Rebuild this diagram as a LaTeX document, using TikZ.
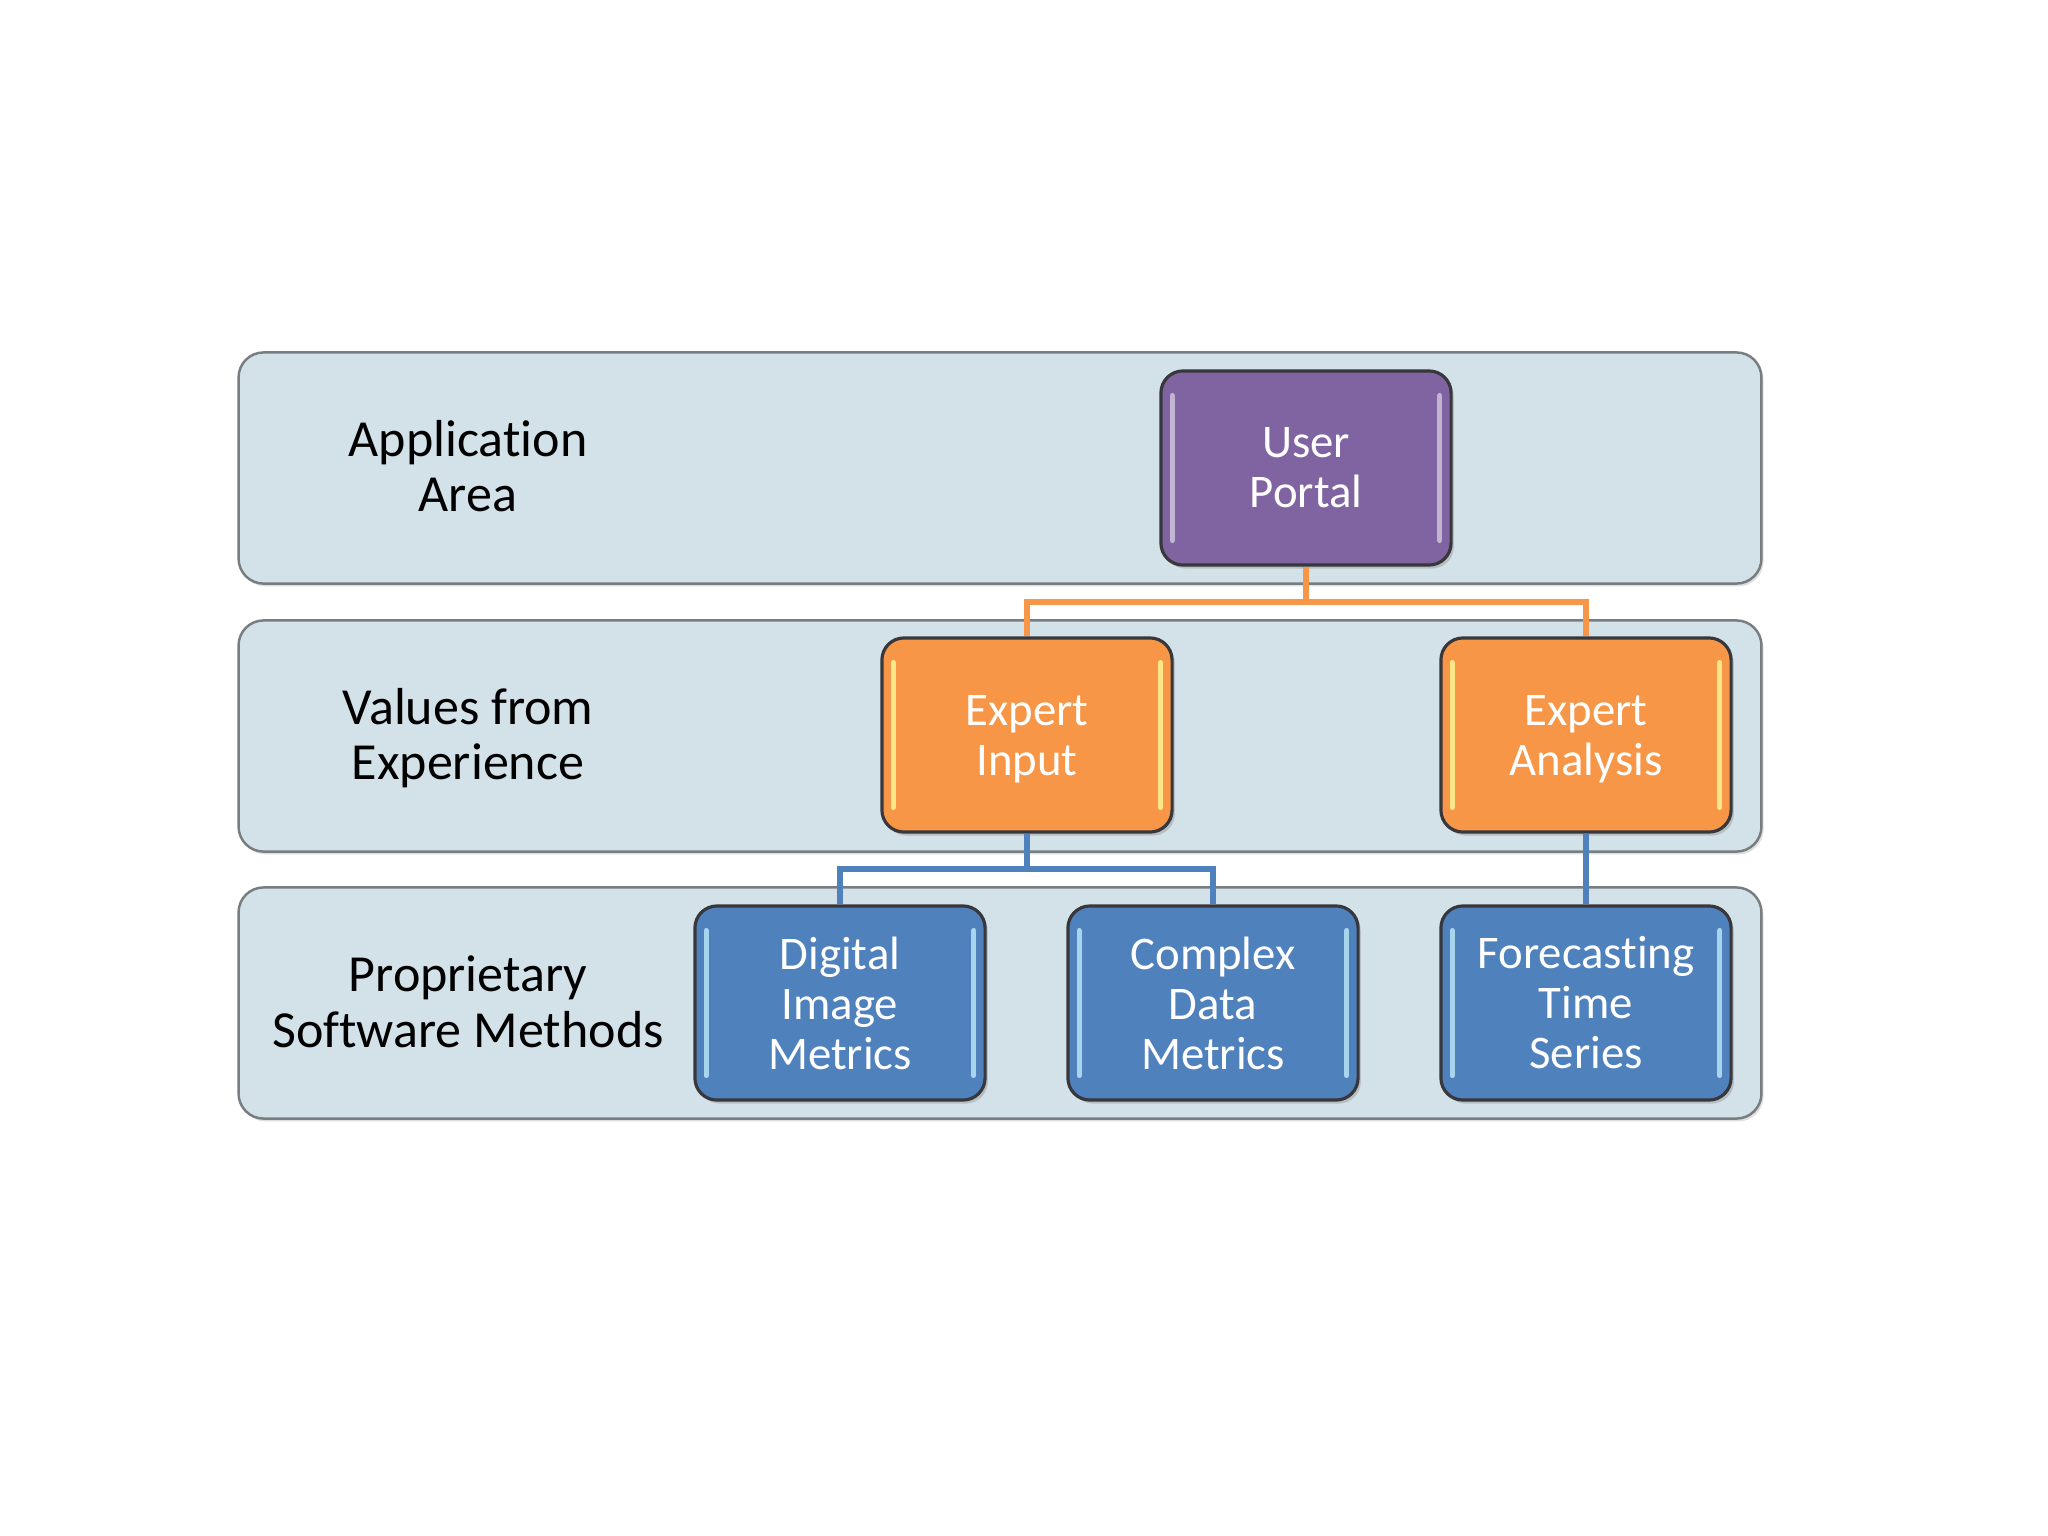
\documentclass[tikz,border=0pt]{standalone}
\usepackage{fontspec}
\setmainfont[Ligatures=NoCommon]{Carlito}
\usetikzlibrary{shadows}
\definecolor{bandfill}{RGB}{211,226,233}
\definecolor{bandline}{RGB}{120,125,130}
\definecolor{upurple}{RGB}{128,100,162}
\definecolor{uorange}{RGB}{247,150,70}
\definecolor{ublue}{RGB}{79,129,189}
\definecolor{boxline}{RGB}{55,55,60}
\newcommand{\lowerstrut}{\rule{0pt}{11pt}}
\tikzset{
  band/.style={draw=bandline, line width=0.7pt, fill=bandfill, rounded corners=0.25cm,
    minimum width=15.22cm, minimum height=2.31cm, inner sep=0pt,
    drop shadow={opacity=0.25, shadow xshift=0.6pt, shadow yshift=-0.8pt}},
  bandlabel/.style={align=center, font=\fontsize{14.8}{15.8}\selectfont, text=black},
  hbox/.style={draw=boxline, line width=0.9pt, rounded corners=0.22cm,
    minimum width=2.9cm, minimum height=1.94cm, inner sep=0pt, align=center,
    text=white, font=\fontsize{13.3}{14.2}\selectfont,
    drop shadow={opacity=0.35, shadow xshift=0.8pt, shadow yshift=-1pt},
    path picture={
      \draw[#1, line width=1.5pt, line cap=round, opacity=0.8]
        ([xshift=3.2pt,yshift=-7pt]path picture bounding box.north west) --
        ([xshift=3.2pt,yshift=7pt]path picture bounding box.south west);
      \draw[#1, line width=1.5pt, line cap=round, opacity=0.8]
        ([xshift=-3.2pt,yshift=-7pt]path picture bounding box.north east) --
        ([xshift=-3.2pt,yshift=7pt]path picture bounding box.south east);
    }},
  pbox/.style={hbox={upurple!35!white}, fill=upurple},
  obox/.style={hbox={yellow!40!white}, fill=uorange},
  bbox/.style={hbox={cyan!25!white}, fill=ublue},
  oline/.style={draw=uorange, line width=1.5pt},
  bline/.style={draw=ublue, line width=1.5pt}
}
\begin{document}
\begin{tikzpicture}[x=0.01cm, y=-0.01cm]
\useasboundingbox[fill=white] (0,0) rectangle (2048,1536);
% bands
\node[band] (band1) at (1000,468) {};
\node[band] (band2) at (1000,736) {};
\node[band] (band3) at (1000,1003) {};
% band labels
\node[bandlabel] (lab1) at (468,466) {Application\\Area};
\node[bandlabel] (lab2) at (468,738) {Values from\\Experience};
\node[bandlabel] (lab3) at (468,1002) {Proprietary\\Software Methods};
% boxes
\node[pbox] (up) at (1306,468) {User\\Portal};
\node[obox] (ei) at (1027,735) {\lowerstrut Expert\\Input};
\node[obox] (ea) at (1586,735) {\lowerstrut Expert\\Analysis};
\node[bbox] (dim) at (840,1003) {Digital\\Image\\Metrics};
\node[bbox] (cdm) at (1213,1003) {Complex\\Data\\Metrics};
\node[bbox] (fts) at (1586,1003) {Forecasting\\Time\\Series};
% connectors
\coordinate (oj) at (1306,602);
\coordinate (bj) at (1027,869);
\draw[oline] (up.south) -- (oj);
\draw[oline] (ei.north) |- (oj) -| (ea.north);
\draw[bline] (ei.south) -- (bj);
\draw[bline] (dim.north) |- (bj) -| (cdm.north);
\draw[bline] (ea.south) -- (fts.north);
\end{tikzpicture}
\end{document}
